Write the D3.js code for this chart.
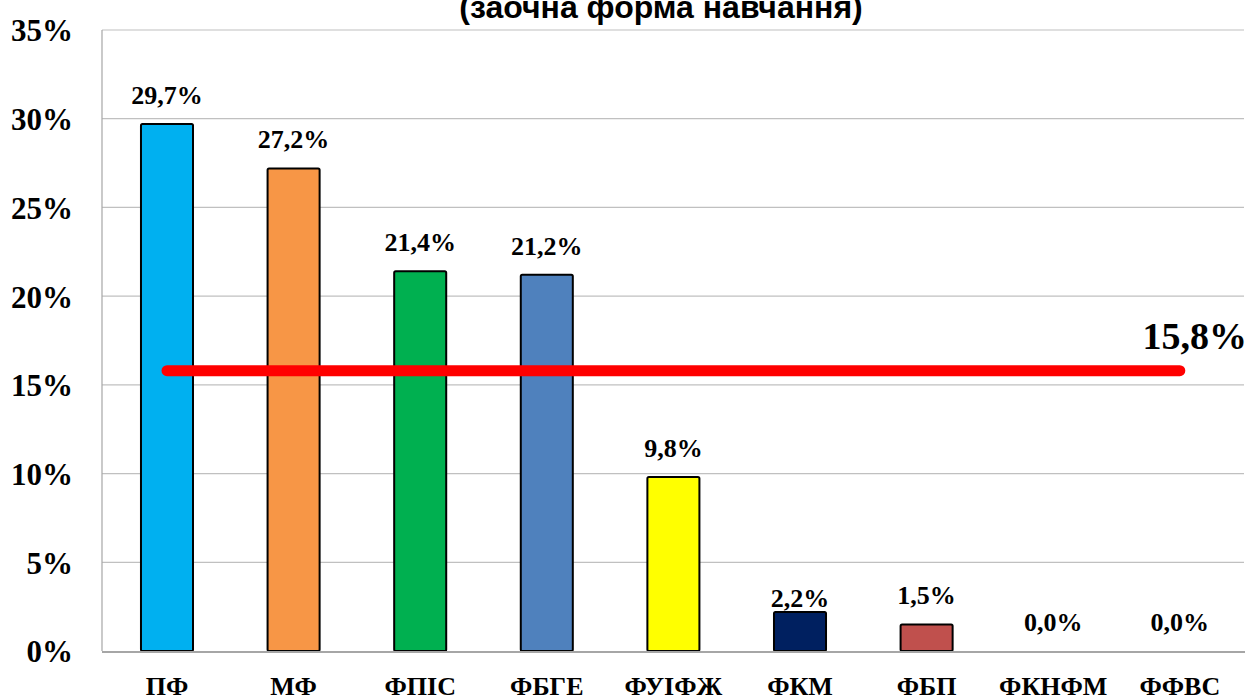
<!DOCTYPE html>
<html><head><meta charset="utf-8">
<script src="https://cdn.jsdelivr.net/npm/d3@7"></script>
<style>html,body{margin:0;padding:0;background:#fff;}</style>
</head><body>
<svg id="c" width="1252" height="700"></svg>
<script>
const categories = ["ПФ","МФ","ФПІС","ФБГЕ","ФУІФЖ","ФКМ","ФБП","ФКНФМ","ФФВС"];
const values = [0.297,0.272,0.214,0.212,0.098,0.022,0.015,0.0,0.0];
const valueLabels = ["29,7%","27,2%","21,4%","21,2%","9,8%","2,2%","1,5%","0,0%","0,0%"];
const barColors = ["#00B0F0","#F79646","#00B050","#4F81BD","#FFFF00","#002060","#C0504D","#FFFFFF","#FFFFFF"];
const averageValue = 0.158;
const averageLabel = "15,8%";
const yTicks = [0,0.05,0.10,0.15,0.20,0.25,0.30,0.35];
const yTickLabels = ["0%","5%","10%","15%","20%","25%","30%","35%"];
const titleText = "(заочна форма навчання)";

const svg = d3.select("#c");
svg.append("rect").attr("width",1252).attr("height",700).attr("fill","#fff");

const x = d3.scaleBand().domain(categories).range([103.5,1243.3]).paddingInner(0.589).paddingOuter(0.296);
const y = d3.scaleLinear().domain([0,0.35]).range([651,30]);
const serif = "'Liberation Serif','Times New Roman',serif";

// gridlines
svg.append("g").selectAll("line").data(yTicks.filter(t=>t>0)).join("line")
  .attr("x1",102).attr("x2",1244).attr("y1",d=>y(d)).attr("y2",d=>y(d))
  .attr("stroke","#c0c0c0").attr("stroke-width",1.2);

// left axis line
svg.append("line").attr("x1",102).attr("x2",102).attr("y1",y(0.35)).attr("y2",y(0))
  .attr("stroke","#a6a6a6").attr("stroke-width",1.2);

// y tick labels via axis
const yAxis = d3.axisLeft(y).tickValues(yTicks).tickFormat((d,i)=>yTickLabels[i]).tickSize(0).tickPadding(0);
const yg = svg.append("g").attr("transform","translate(73,0)").call(yAxis);
yg.select(".domain").remove();
yg.selectAll("text").attr("font-family",serif)
  .attr("font-weight","bold").attr("font-size",31).attr("fill","#000").attr("dy","0.35em");

// bars
const data = categories.map((c,i)=>({name:c,value:values[i],label:valueLabels[i],color:barColors[i]}));
svg.append("g").selectAll("rect").data(data.filter(d=>d.value>0)).join("rect")
  .attr("x",d=>x(d.name)).attr("width",x.bandwidth())
  .attr("y",d=>y(d.value)).attr("height",d=>y(0)-y(d.value))
  .attr("rx",1.5)
  .attr("fill",d=>d.color).attr("stroke","#000").attr("stroke-width",2);

// bottom axis line
svg.append("line").attr("x1",102).attr("x2",1245).attr("y1",y(0)+1).attr("y2",y(0)+1)
  .attr("stroke","#a6a6a6").attr("stroke-width",2);

// value labels
svg.append("g").selectAll("text").data(data).join("text")
  .attr("x",d=>x(d.name)+x.bandwidth()/2)
  .attr("y",d=>y(d.value)-(d.name==="ФКМ"?5:20))
  .attr("text-anchor","middle")
  .attr("font-family",serif)
  .attr("font-weight","bold").attr("font-size",26).attr("fill","#000")
  .text(d=>d.label);

// x labels
const xAxis = d3.axisBottom(x).tickSize(0).tickPadding(0);
const xg = svg.append("g").attr("transform","translate(0,695)").call(xAxis);
xg.select(".domain").remove();
xg.selectAll("text").attr("font-family",serif)
  .attr("font-weight","bold").attr("font-size",26).attr("fill","#000").attr("dy",0);

// average line
const xFirst = x(categories[0])+x.bandwidth()/2;
const xLast = x(categories[categories.length-1])+x.bandwidth()/2;
svg.append("line").attr("x1",xFirst).attr("x2",xLast)
  .attr("y1",y(averageValue)).attr("y2",y(averageValue))
  .attr("stroke","#FF0000").attr("stroke-width",11).attr("stroke-linecap","round");
svg.append("text").attr("x",1247).attr("y",349).attr("text-anchor","end")
  .attr("font-family",serif)
  .attr("font-weight","bold").attr("font-size",38).attr("fill","#000").text(averageLabel);

// title (partly cut off at top, as in the reference)
svg.append("text").attr("x",661).attr("y",18).attr("text-anchor","middle")
  .attr("font-family","'Liberation Sans',Arial,sans-serif")
  .attr("font-weight","bold").attr("font-size",32).attr("fill","#000").text(titleText);
</script>
</body></html>
